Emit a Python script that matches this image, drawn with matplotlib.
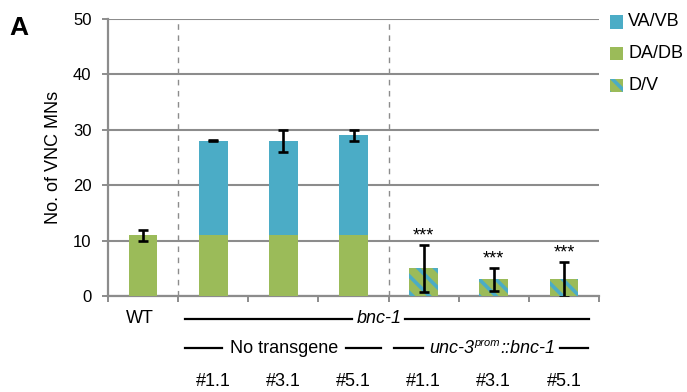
import matplotlib
matplotlib.use("Agg")
import matplotlib.pyplot as plt
from matplotlib.patches import Rectangle
from matplotlib.transforms import blended_transform_factory

plt.rcParams['font.family'] = ['Liberation Sans', 'DejaVu Sans']
plt.rcParams['hatch.linewidth'] = 2.6

# ---- data ----
groups = ["WT", "#1.1", "#3.1", "#5.1", "#1.1", "#3.1", "#5.1"]
da_db = [11, 11, 11, 11, 0, 0, 0]
va_vb = [0, 17, 17, 18, 0, 0, 0]
d_v = [0, 0, 0, 0, 5, 3, 3]
err = [1, 0.1, 2, 1, 4.2, 2.1, 3.1]
stars = ["", "", "", "", "***", "***", "***"]
legend_labels = ["VA/VB", "DA/DB", "D/V"]
yticks = [0, 10, 20, 30, 40, 50]

blue = "#4BACC6"
green = "#9BBB59"
gray = "#8C8C8C"
FS = 13

W, H = 687, 392
fig = plt.figure(figsize=(W / 100, H / 100), dpi=100)
ax = fig.add_axes([108 / W, 1 - 296 / H, 491 / W, 277 / H])

x = list(range(len(groups)))
bw = 0.41
ax.bar(x, da_db, width=bw, color=green, linewidth=0, zorder=3)
ax.bar(x, va_vb, width=bw, bottom=da_db, color=blue, linewidth=0, zorder=3)
ax.bar(x, d_v, width=bw, color=green, edgecolor=blue, hatch="\\\\", linewidth=0, zorder=3)

tops = [a + b + c for a, b, c in zip(da_db, va_vb, d_v)]
ax.errorbar(x, tops, yerr=err, fmt="none", ecolor="black", elinewidth=1.9,
            capsize=3.6, capthick=1.9, zorder=4)
for xi, t, e, s in zip(x, tops, err, stars):
    if s:
        ax.annotate(s, xy=(xi, t + e), xytext=(0, 0.5), textcoords="offset points",
                    ha="center", va="bottom", fontsize=13)

ax.set_xlim(-0.5, len(groups) - 0.5)
ax.set_ylim(0, 50)
ax.set_yticks(yticks)
ax.set_yticklabels([str(v) for v in yticks], fontsize=12)
ax.set_xticks([i - 0.5 for i in range(len(groups) + 1)])
ax.set_xticklabels([])
ax.tick_params(axis="y", length=4.3, width=1.4, color=gray, pad=7.5)
ax.tick_params(axis="x", length=4, width=1.4, color=gray)
for sp in ["top", "right"]:
    ax.spines[sp].set_visible(False)
for sp in ["left", "bottom"]:
    ax.spines[sp].set_color(gray)
    ax.spines[sp].set_linewidth(1.6)
ax.yaxis.grid(True, color=gray, linewidth=1.5, zorder=0)
ax.set_axisbelow(True)
for bx in [0.5, 3.5]:
    ax.axvline(bx, color=gray, linestyle=(0, (4, 4)), linewidth=1.0, zorder=1)

ax.set_ylabel("No. of VNC MNs", fontsize=13)
ax.yaxis.set_label_coords(-0.093, 0.5)

# ---- category labels below ----
tr = blended_transform_factory(ax.transData, ax.transAxes)
y1, y2, y3 = -0.083, -0.188, -0.31
ax.text(-0.04, y1, "WT", transform=tr, ha="center", va="center", fontsize=FS)
ax.text(3.36, y1, "bnc-1", transform=tr, ha="center", va="center", fontsize=FS, style="italic")
lkw = dict(transform=tr, color="black", linewidth=1.6, clip_on=False)
ax.plot([0.6, 2.98], [y1, y1], **lkw)
ax.plot([3.73, 6.36], [y1, y1], **lkw)

ax.text(2.01, y2, "No transgene", transform=tr, ha="center", va="center", fontsize=FS)
ax.plot([0.6, 1.13], [y2, y2], **lkw)
ax.plot([2.89, 3.39], [y2, y2], **lkw)
ax.plot([3.58, 3.99], [y2, y2], **lkw)
ax.plot([5.94, 6.34], [y2, y2], **lkw)
t1 = ax.text(4.08, y2, "unc-3", transform=tr, ha="left", va="center", fontsize=FS, style="italic")
sup = ax.annotate("prom", xy=(1, 0.5), xycoords=t1, xytext=(0.3, 4.0),
                  textcoords="offset points", ha="left", va="center", fontsize=8, style="italic")
ax.annotate("::bnc-1", xy=(1, 0.5), xycoords=(sup, t1), xytext=(0.3, 0),
            textcoords="offset points", ha="left", va="center", fontsize=FS, style="italic")

for xi, g in zip(x[1:], groups[1:]):
    ax.text(xi, y3, g, transform=tr, ha="center", va="center", fontsize=FS)

# ---- legend ----
leg_y = [22, 53, 85]
for i, (lab, yy) in enumerate(zip(legend_labels, leg_y)):
    if i == 0:
        kw = dict(facecolor=blue, linewidth=0)
    elif i == 1:
        kw = dict(facecolor=green, linewidth=0)
    else:
        kw = dict(facecolor=green, edgecolor=blue, hatch="\\\\", linewidth=0)
    fig.add_artist(Rectangle((610 / W, 1 - (yy + 6.5) / H), 13 / W, 13 / H,
                             transform=fig.transFigure, **kw))
    fig.text(628 / W, 1 - yy / H, lab, ha="left", va="center", fontsize=FS)

fig.text(9 / W, 1 - 28 / H, "A", ha="left", va="center", fontsize=19, fontweight="bold")

fig.savefig("out.png", dpi=100)
